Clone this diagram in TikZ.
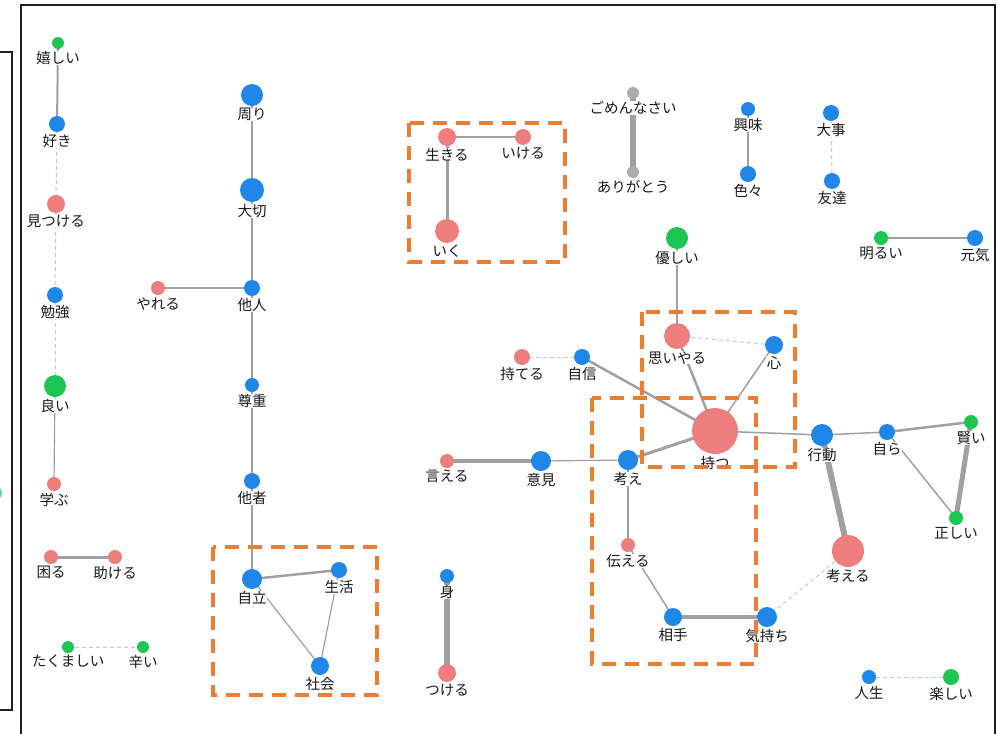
\documentclass[tikz,border=0pt]{standalone}
\usepackage{fontspec}
\setmainfont{Noto Sans CJK JP}
\usetikzlibrary{positioning}
\pgfdeclarelayer{background}
\pgfsetlayers{background,main}

\definecolor{nblue}{RGB}{31,135,232}
\definecolor{nred}{RGB}{238,125,125}
\definecolor{ngreen}{RGB}{28,198,83}
\definecolor{ngray}{RGB}{172,172,172}
\definecolor{egray}{RGB}{160,160,160}
\definecolor{elight}{RGB}{200,200,200}
\definecolor{borange}{RGB}{237,125,49}
\definecolor{frameink}{RGB}{30,30,30}

\tikzset{
  dot/.style={circle, inner sep=0pt, outer sep=0pt, draw=none},
  lbl/.style={inner sep=0.3pt, fill=white, text=black!90,
              font=\fontsize{14.5}{16}\selectfont},
  link/.style={draw=egray, line width=#1, line cap=round},
  link/.default=1.5pt,
  weak/.style={draw=elight, line width=1pt, dash pattern=on 4pt off 3pt},
  groupbox/.style={draw=borange, line width=3.2pt, dash pattern=on 14pt off 9pt},
  frameline/.style={draw=frameink, line width=2pt}
}

% \wordnode{name}{x}{y}{radius}{colour}{word}
\newcommand\wordnode[6]{%
  \node[dot, fill=#5, minimum size=#4*2pt] (#1) at (#2,#3) {};
  \node[lbl, below=1.8pt of #1] (#1-t) {#6};}

\begin{document}
\begin{tikzpicture}[x=1pt, y=-1pt]
\useasboundingbox (0,0) rectangle (997,734);

% panel frames
\draw[frameline] (0,52) -- (12,52) -- (12,710) -- (0,710);
\draw[frameline] (20.5,734) -- (20.5,4.5) -- (994.5,4.5) -- (994.5,734);
\begin{scope}
  \clip (0,0) rectangle (10,734);
  \fill[ngreen!70] (-5,493) circle (7);
\end{scope}

% left column
\wordnode{ureshii}{58}{43}{6}{ngreen}{嬉しい}
\wordnode{suki}{57}{124}{8}{nblue}{好き}
\wordnode{mitsukeru}{56}{204}{9}{nred}{見つける}
\wordnode{benkyo}{55}{295}{8}{nblue}{勉強}
\wordnode{yoi}{55}{386}{11}{ngreen}{良い}
\wordnode{manabu}{54}{484}{7}{nred}{学ぶ}
\wordnode{komaru}{51}{557}{7}{nred}{困る}
\wordnode{tasukeru}{115}{557}{7}{nred}{助ける}
\wordnode{takumashii}{68}{647}{6}{ngreen}{たくましい}
\wordnode{tsurai}{143}{647}{6}{ngreen}{辛い}

% second column
\wordnode{mawari}{252}{95}{11}{nblue}{周り}
\wordnode{taisetsu}{252}{190}{12}{nblue}{大切}
\wordnode{tanin}{252}{288}{8}{nblue}{他人}
\wordnode{yareru}{158}{288}{7}{nred}{やれる}
\wordnode{sonchou}{252}{385}{7}{nblue}{尊重}
\wordnode{tasha}{252}{481}{8}{nblue}{他者}
\wordnode{jiritsu}{252}{579}{10}{nblue}{自立}
\wordnode{seikatsu}{339}{570}{8}{nblue}{生活}
\wordnode{shakai}{320}{666}{9}{nblue}{社会}

\wordnode{mi}{447}{576}{7}{nblue}{身}
\wordnode{tsukeru}{447}{673}{9}{nred}{つける}

\wordnode{ikiru}{447}{137}{9}{nred}{生きる}
\wordnode{ikeru}{523}{137}{8}{nred}{いける}
\wordnode{iku}{447}{231}{12}{nred}{いく}

\wordnode{gomen}{633}{93}{6}{ngray}{ごめんなさい}
\wordnode{arigatou}{633}{172}{6}{ngray}{ありがとう}

\wordnode{kyoumi}{748}{109}{7}{nblue}{興味}
\wordnode{iroiro}{748}{174}{8}{nblue}{色々}
\wordnode{daiji}{831}{113}{8}{nblue}{大事}
\wordnode{tomodachi}{832}{181}{8}{nblue}{友達}
\wordnode{akarui}{881}{238}{7}{ngreen}{明るい}
\wordnode{genki}{975}{238}{8}{nblue}{元気}

% central cluster
\wordnode{yasashii}{677}{238}{11}{ngreen}{優しい}
\wordnode{omoiyaru}{677}{336}{13}{nred}{思いやる}
\wordnode{kokoro}{774}{345}{9}{nblue}{心}
\wordnode{moteru}{522}{357}{8}{nred}{持てる}
\wordnode{jishin}{582}{357}{8}{nblue}{自信}
\wordnode{motsu}{715}{431}{23}{nred}{持つ}
\wordnode{kangae}{628}{460}{10}{nblue}{考え}
\wordnode{ieru}{447}{461}{7}{nred}{言える}
\wordnode{iken}{541}{461}{10}{nblue}{意見}
\wordnode{koudou}{822}{435}{11}{nblue}{行動}
\wordnode{mizukara}{887}{432}{8}{nblue}{自ら}
\wordnode{kashikoi}{971}{422}{7}{ngreen}{賢い}
\wordnode{tadashii}{956}{518}{7}{ngreen}{正しい}
\wordnode{kangaeru}{848}{551}{16}{nred}{考える}
\wordnode{tsutaeru}{628}{545}{7}{nred}{伝える}
\wordnode{aite}{673}{617}{9}{nblue}{相手}
\wordnode{kimochi}{767}{617}{10}{nblue}{気持ち}
\wordnode{jinsei}{869}{677}{7}{nblue}{人生}
\wordnode{tanoshii}{951}{677}{8}{ngreen}{楽しい}

\begin{pgfonlayer}{background}
  \draw[link=2pt] (ureshii.center) -- (suki.center);
  \draw[weak] (suki.center) -- (mitsukeru.center);
  \draw[weak] (mitsukeru.center) -- (benkyo.center);
  \draw[weak] (benkyo.center) -- (yoi.center);
  \draw[link=1.2pt] (yoi.center) -- (manabu.center);
  \draw[link=3pt] (komaru.center) -- (tasukeru.center);
  \draw[weak] (takumashii.center) -- (tsurai.center);

  \draw[link=1.2pt] (mawari.center) -- (taisetsu.center);
  \draw[link=1.2pt] (taisetsu.center) -- (tanin.center);
  \draw[link=1.5pt] (yareru.center) -- (tanin.center);
  \draw[link=2.5pt] (tanin.center) -- (sonchou.center);
  \draw[link=2.5pt] (sonchou.center) -- (tasha.center);
  \draw[link=1.5pt] (tasha.center) -- (jiritsu.center);
  \draw[link=2.5pt] (jiritsu.center) -- (seikatsu.center);
  \draw[link=1.2pt] (jiritsu.center) -- (shakai.center);
  \draw[link=1.2pt] (seikatsu.center) -- (shakai.center);

  \draw[link=6pt] (mi.center) -- (tsukeru.center);
  \draw[link=2.5pt] (ikiru.center) -- (ikeru.center);
  \draw[link=3pt] (ikiru.center) -- (iku.center);
  \draw[link=6pt] (gomen.center) -- (arigatou.center);
  \draw[link=2pt] (kyoumi.center) -- (iroiro.center);
  \draw[weak] (daiji.center) -- (tomodachi.center);
  \draw[link=2pt] (akarui.center) -- (genki.center);

  \draw[link=2pt] (yasashii.center) -- (omoiyaru.center);
  \draw[weak] (omoiyaru.center) -- (kokoro.center);
  \draw[link=2.5pt] (omoiyaru.center) -- (motsu.center);
  \draw[link=1.5pt] (kokoro.center) -- (motsu.center);
  \draw[link=2.5pt] (jishin.center) -- (motsu.center);
  \draw[weak] (moteru.center) -- (jishin.center);
  \draw[link=3pt] (kangae.center) -- (motsu.center);
  \draw[link=1.2pt] (iken.center) -- (kangae.center);
  \draw[link=4.5pt] (ieru.center) -- (iken.center);
  \draw[link=1.5pt] (motsu.center) -- (koudou.center);
  \draw[link=1.5pt] (koudou.center) -- (mizukara.center);
  \draw[link=2.5pt] (mizukara.center) -- (kashikoi.center);
  \draw[link=1.5pt] (mizukara.center) -- (tadashii.center);
  \draw[link=5pt] (kashikoi.center) -- (tadashii.center);
  \draw[link=6pt] (koudou.center) -- (kangaeru.center);
  \draw[link=1.5pt] (kangae.center) -- (tsutaeru.center);
  \draw[link=1.5pt] (tsutaeru.center) -- (aite.center);
  \draw[link=3.5pt] (aite.center) -- (kimochi.center);
  \draw[weak] (kimochi.center) -- (kangaeru.center);
  \draw[weak] (jinsei.center) -- (tanoshii.center);
\end{pgfonlayer}

% highlighted groups
\draw[groupbox] (409,123) rectangle (565,262);
\draw[groupbox] (213,547) rectangle (377,695);
\draw[groupbox] (642,312) rectangle (795,467);
\draw[groupbox] (592,398) rectangle (756,664);
\end{tikzpicture}
\end{document}
